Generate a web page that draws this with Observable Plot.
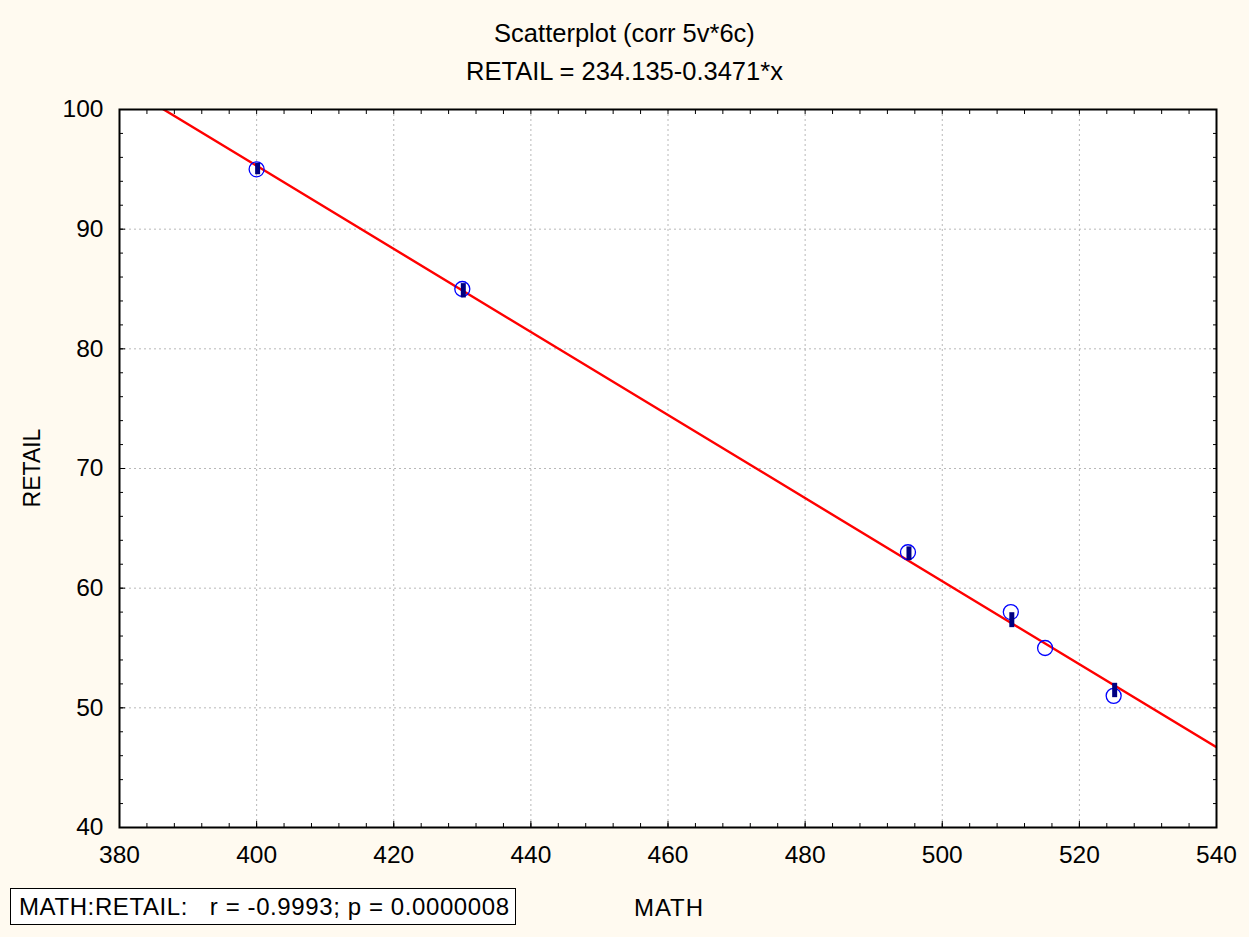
<!DOCTYPE html>
<html>
<head>
<meta charset="utf-8">
<script src="https://cdn.jsdelivr.net/npm/d3@7"></script>
<script src="https://cdn.jsdelivr.net/npm/@observablehq/plot@0.6"></script>
<style>
  html, body { margin: 0; padding: 0; background: #fffaf0; }
  #wrap { position: relative; width: 1249px; height: 937px; background: #fffaf0; font-family: "Liberation Sans", Arial, sans-serif; color: #000; overflow: hidden; }
  .t { position: absolute; white-space: nowrap; }
  #title1 { left: 0; width: 1249px; text-align: center; top: 19px; font-size: 25.5px; }
  #title2 { left: 0; width: 1249px; text-align: center; top: 57px; font-size: 25.5px; }
  #xlabel { left: 669px; top: 894px; transform: translateX(-50%); font-size: 24px; letter-spacing: 1px; }
  #ylabel { left: 32px; top: 468px; transform: translate(-50%, -50%) rotate(-90deg); font-size: 23px; }
  #footer { left: 10px; top: 888px; width: 506px; height: 37px; border: 1.5px solid #000; background: #fff; font-size: 24px; letter-spacing: 0.6px; line-height: 35px; padding-left: 8px; box-sizing: border-box; }
  #chart { position: absolute; left: 0; top: 0; }
</style>
</head>
<body>
<div id="wrap">
  <div id="chart"></div>
  <div class="t" id="title1">Scatterplot (corr 5v*6c)</div>
  <div class="t" id="title2">RETAIL = 234.135-0.3471*x</div>
  <div class="t" id="xlabel">MATH</div>
  <div class="t" id="ylabel">RETAIL</div>
  <div class="t" id="footer">MATH:RETAIL:&nbsp;&nbsp; r = -0.9993; p = 0.0000008</div>
</div>
<script>
// Data
const math = [400, 430, 495, 510, 515, 525];
const retail = [95, 85, 63, 58, 55, 51];
// dark vertical markers near points
const barX = [400, 430, 495, 510, 525];
const barLow = [94.55, 84.25, 62.3, 56.7, 50.85];
const barHigh = [95.5, 85.45, 63.45, 57.95, 52.05];
// regression line as stated in the title
const intercept = 234.135;
const slope = -0.3471;
const lineEnds = [380, 540];
// tick positions
const xTicks = [380, 400, 420, 440, 460, 480, 500, 520, 540];
const yTicks = [40, 50, 60, 70, 80, 90, 100];
const xMinor = d3.range(380, 541, 4);
const yMinor = d3.range(40, 101, 2);

const points = math.map((m, i) => ({x: m, y: retail[i]}));
const bars = barX.map((b, i) => ({x: b, y1: barLow[i], y2: barHigh[i]}));
const fit = lineEnds.map(x => ({x, y: intercept + slope * x}));

const chart = Plot.plot({
  width: 1249,
  height: 937,
  marginLeft: 119,
  marginRight: 33,
  marginTop: 109,
  marginBottom: 110,
  style: {fontFamily: "'Liberation Sans', Arial, sans-serif", fontSize: "24.5px", background: "transparent", color: "#000"},
  x: {domain: [380, 540]},
  y: {domain: [40, 100]},
  marks: [
    Plot.frame({fill: "white", stroke: null}),
    Plot.gridX(xTicks, {stroke: "#b8b8b8", strokeOpacity: 1, strokeDasharray: "2,3"}),
    Plot.gridY(yTicks, {stroke: "#b8b8b8", strokeOpacity: 1, strokeDasharray: "2,3"}),
    Plot.line(fit, {x: "x", y: "y", stroke: "#ff0000", strokeWidth: 2.4, clip: true}),
    Plot.dot(points, {x: "x", y: "y", r: 7.5, stroke: "#0000ff", fill: "none", strokeWidth: 1.3}),
    Plot.ruleX(bars, {x: "x", y1: "y1", y2: "y2", stroke: "#000080", strokeWidth: 5, dx: 1}),
    Plot.axisX({ticks: xTicks, anchor: "bottom", tickSize: 0, tickPadding: 18, label: null}),
    Plot.axisY({ticks: yTicks, anchor: "left", tickSize: 0, tickPadding: 16, label: null}),
    Plot.axisX({ticks: xMinor, anchor: "bottom", tickSize: -4, text: null, label: null}),
    Plot.axisX({ticks: xMinor, anchor: "top", tickSize: -4, text: null, label: null}),
    Plot.axisY({ticks: yMinor, anchor: "left", tickSize: -4, text: null, label: null}),
    Plot.axisY({ticks: yMinor, anchor: "right", tickSize: -4, text: null, label: null}),
    Plot.axisX({ticks: xTicks, anchor: "bottom", tickSize: -6, text: null, label: null}),
    Plot.axisY({ticks: yTicks, anchor: "left", tickSize: -6, text: null, label: null}),
    Plot.frame({stroke: "#000", strokeWidth: 2})
  ]
});
document.getElementById("chart").appendChild(chart);
</script>
</body>
</html>
